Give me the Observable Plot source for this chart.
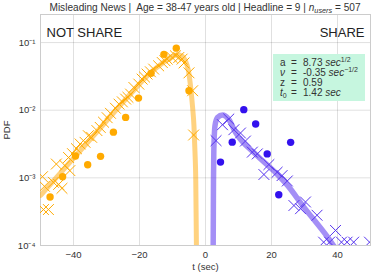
<!DOCTYPE html>
<html><head><meta charset="utf-8">
<script src="https://cdn.jsdelivr.net/npm/d3@7"></script>
<script src="https://cdn.jsdelivr.net/npm/@observablehq/plot@0.6"></script>
<style>
body{margin:0;background:#fff;}
svg{font-family:"Liberation Sans",Arial,sans-serif;}
</style>
</head><body><div id="chart"></div>
<script>
// ---- fitted curves ----
const notShareCurveT   = [-50, -40.9, -31.8, -22.7, -16.7, -13.0, -10.6, -8.5, -7.0, -6.1, -5.15, -4.55, -3.95, -3.5, -3.2, -2.95, -2.75, -2.6];
const notShareCurvePdf = [5.5e-4, 1.74e-3, 5.5e-3, 1.75e-2, 3.57e-2, 5.0e-2, 6.05e-2, 6.6e-2, 6.25e-2, 5.4e-2, 3.8e-2, 2.3e-2, 1.16e-2, 5.9e-3, 2.5e-3, 9.1e-4, 1.0e-4, 4.3e-5];
const shareCurveT   = [2.24, 2.33, 2.42, 2.52, 2.88, 3.64, 5.15, 6.97, 9.09, 15.15, 21.2, 24.8, 29.8, 36.9, 38.8, 42.4];
const shareCurvePdf = [4.3e-5, 1.0e-4, 9.1e-4, 2.5e-3, 5.9e-3, 7.8e-3, 8.5e-3, 7.4e-3, 4.7e-3, 2.24e-3, 1.2e-3, 7.8e-4, 3.7e-4, 1.35e-4, 1.0e-4, 5.6e-5];

// ---- simulated (crosses) ----
const notShareSimT = [-49.1,-47.6,-49.4,-48.8,-46.1,-44.5,-43.5,-45.2,-42.6,-41.1,-41.5,-40.3,-39.1,-38.0,-36.5,-35.5,-34.5,-32.9,-31.9,-30.9,-29.8,-28.8,-27.3,-26.2,-25.2,-24.2,-23.5,-22.7,-21.7,-20.2,-19.2,-18.5,-17.7,-16.7,-15.7,-14.2,-13.1,-12.3,-11.6,-10.1,-9.1,-8.1,-7.1,-6.5,-5.0,-3.9,-3.6];
const notShareSimPdf = [3.4e-4,3.4e-4,1.04e-3,7.5e-4,8.6e-4,8.0e-4,7.0e-4,1.6e-3,1.52e-3,1.28e-3,2.0e-3,2.28e-3,2.7e-3,3.17e-3,3.35e-3,4.2e-3,3.97e-3,5.0e-3,5.57e-3,6.65e-3,7.75e-3,9.0e-3,1.07e-2,1.23e-2,1.33e-2,1.46e-2,1.55e-2,1.73e-2,2.17e-2,2.43e-2,2.88e-2,3.1e-2,3.42e-2,3.7e-2,4.05e-2,4.53e-2,5.07e-2,5.4e-2,5.69e-2,6.01e-2,6.37e-2,6.01e-2,5.69e-2,5.0e-2,3.57e-2,1.94e-2,4.3e-3];
const shareSimT   = [3.2, 5.15, 7.05, 8.6, 10.6, 12.1, 14.2, 15.7, 17.7, 19.2, 21.7, 23.2, 24.8, 26.8, 28.8, 30.3, 33.8, 39.4, 35.8, 37.6, 41.2, 42.9, 44.9, 49.7];
const shareSimPdf = [3.55e-3, 6.1e-3, 7.4e-3, 5.15e-3, 4.6e-3, 3.5e-3, 2.4e-3, 2.26e-3, 1.12e-3, 1.57e-3, 1.21e-3, 1.08e-3, 9.0e-4, 3.9e-4, 3.5e-4, 4.4e-4, 2.8e-4, 1.67e-4, 1.12e-4, 1.12e-4, 1.12e-4, 1.12e-4, 1.12e-4, 1.12e-4];

// ---- observed (dots) ----
const notShareObsT   = [-47.1,-43.3,-39.4,-35.7,-31.8,-27.9,-24.2,-20.3,-16.5,-12.6,-8.85,-5.0];
const notShareObsPdf = [5.2e-4,1.04e-3,2.1e-3,1.56e-3,2.08e-3,4.74e-3,7.83e-3,1.51e-2,3.51e-2,6.7e-2,8.27e-2,1.94e-2];
const shareObsT   = [4.55, 8.1, 11.6, 15.2, 18.7, 22.2, 25.8];
const shareObsPdf = [1.71e-3, 3.37e-3, 1.02e-2, 6.25e-3, 2.26e-3, 5.64e-4, 3.35e-3];

// ---- ticks ----
const xTicks = [-40, -20, 0, 20, 40];
const xTickLabels = ["\u221240", "\u221220", "0", "20", "40"];
const yTicks = [1e-4, 1e-3, 1e-2, 1e-1];
const yTickLabels = ["10\u207B\u2074", "10\u207B\u00B3", "10\u207B\u00B2", "10\u207B\u00B9"];

const zip = (ts, ps) => ts.map((t, i) => ({t, pdf: ps[i]}));
const nsCurve = zip(notShareCurveT, notShareCurvePdf);
const sCurve = zip(shareCurveT, shareCurvePdf);
const nsSim = zip(notShareSimT, notShareSimPdf);
const sSim = zip(shareSimT, shareSimPdf);
const nsObs = zip(notShareObsT, notShareObsPdf);
const sObs = zip(shareObsT, shareObsPdf);

const xLab = new Map(xTicks.map((d, i) => [d, xTickLabels[i]]));
const yLab = new Map(yTicks.map((d, i) => [d, yTickLabels[i]]));

const ORANGE = "#FFAA00", PURPLE_DOT = "#3311EE", PURPLE_X = "#5533EE";

const plot = Plot.plot({
  width: 374, height: 275,
  marginLeft: 40, marginRight: 4, marginTop: 14, marginBottom: 30,
  style: {fontFamily: "Liberation Sans, Arial, sans-serif", fontSize: "9.5px", color: "#333", background: "#fff"},
  x: {domain: [-50, 50]},
  y: {type: "log", domain: [1e-4, 0.26]},
  marks: [
    Plot.gridX(xTicks, {stroke: "#000", strokeOpacity: 0.12}),
    Plot.gridY(yTicks, {stroke: "#000", strokeOpacity: 0.12}),
    Plot.frame({stroke: "#cccccc"}),
    Plot.axisX(xTicks, {tickSize: 0, tickPadding: 6, tickFormat: d => xLab.get(d), label: null, fontSize: 9.5}),
    Plot.axisY(yTicks, {tickSize: 0, tickPadding: 5, tickFormat: d => yLab.get(d), label: null, fontSize: 9.5}),
    Plot.line(nsCurve, {x: "t", y: "pdf", curve: "monotone-x", stroke: "#FFA500", strokeOpacity: 0.5, strokeWidth: 5, clip: "frame"}),
    Plot.dot(nsSim, {x: "t", y: "pdf", symbol: "times", r: 5, stroke: ORANGE, strokeWidth: 1, clip: "frame"}),
    Plot.dot(nsObs, {x: "t", y: "pdf", r: 3.7, fill: ORANGE, stroke: "none", clip: "frame"}),
    Plot.line(sCurve, {x: "t", y: "pdf", curve: "monotone-x", stroke: "#5a33ee", strokeOpacity: 0.55, strokeWidth: 5.5, clip: "frame"}),
    Plot.dot(sSim, {x: "t", y: "pdf", symbol: "times", r: 5, stroke: PURPLE_X, strokeWidth: 1, clip: "frame"}),
    Plot.dot(sObs, {x: "t", y: "pdf", r: 3.7, fill: PURPLE_DOT, stroke: "none", clip: "frame"}),
    Plot.text(["NOT SHARE"], {text: d => d, frameAnchor: "top-left", dx: 6, dy: 13, lineAnchor: "top", textAnchor: "start", fontSize: 13, fill: "#222"}),
    Plot.text(["SHARE"], {text: d => d, frameAnchor: "top-right", dx: -6, dy: 13, lineAnchor: "top", textAnchor: "end", fontSize: 13, fill: "#222"}),
    Plot.text(["t (sec)"], {text: d => d, frameAnchor: "bottom", dy: 21, lineAnchor: "middle", fontSize: 9.5, fill: "#333"}),
    Plot.text(["PDF"], {text: d => d, frameAnchor: "left", dx: -34, rotate: -90, textAnchor: "middle", lineAnchor: "middle", fontSize: 9.5, fill: "#333"})
  ]
});

document.getElementById("chart").appendChild(plot);
const svg = d3.select(plot);

// title
const title = svg.append("text").attr("x", 205).attr("y", 10.5).attr("text-anchor", "middle")
  .attr("font-size", 10.1).attr("fill", "#333");
title.append("tspan").text("Misleading News |  Age = 38-47 years old | Headline = 9 | ");
title.append("tspan").attr("font-style", "italic").text("n");
title.append("tspan").attr("font-style", "italic").attr("font-size", 7.3).attr("dy", 2.5).text("users");
title.append("tspan").attr("dy", -2.5).text(" = 507");

// parameter box
const g = svg.append("g").attr("font-size", 10).attr("fill", "#333").attr("text-anchor", "start");
g.append("rect").attr("x", 273).attr("y", 54).attr("width", 92).attr("height", 47).attr("fill", "#c6f6df");
function line(y, parts) {
  const t = g.append("text").attr("y", y).attr("text-anchor", "start");
  parts.forEach(p => {
    const s = t.append("tspan").text(p.s);
    if (p.x != null) s.attr("x", p.x);
    if (p.it) s.attr("font-style", "italic");
    if (p.fs) s.attr("font-size", p.fs);
    if (p.dy) s.attr("dy", p.dy);
  });
}
line(66, [{s: "a", x: 280}, {s: "=", x: 291}, {s: "8.73 ", x: 303}, {s: "sec", it: true}, {s: "1/2", fs: 7, dy: -4}]);
line(75.5, [{s: "\u03BD", x: 280, it: true}, {s: "=", x: 291}, {s: "-0.35 ", x: 303}, {s: "sec", it: true}, {s: "\u22121/2", fs: 7, dy: -4}]);
line(85.5, [{s: "z", x: 280}, {s: "=", x: 291}, {s: "0.59", x: 303}]);
line(95.5, [{s: "t", x: 280, it: true}, {s: "0", fs: 7, dy: 2}, {s: "=", x: 291, dy: -2}, {s: "1.42 ", x: 303}, {s: "sec", it: true}]);
</script>
</body></html>
